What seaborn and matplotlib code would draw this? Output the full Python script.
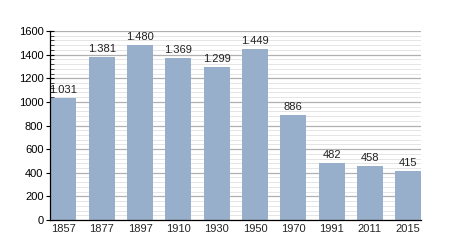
import matplotlib
matplotlib.use("Agg")
import matplotlib.pyplot as plt
import seaborn as sns
import pandas as pd
from matplotlib.ticker import MultipleLocator

years = ["1857", "1877", "1897", "1910", "1930", "1950", "1970", "1991", "2011", "2015"]
population = [1031, 1381, 1480, 1369, 1299, 1449, 886, 482, 458, 415]

df = pd.DataFrame({"year": years, "pop": population})

sns.set_style("white")
plt.rcParams["font.family"] = ["Liberation Sans", "DejaVu Sans"]

fig = plt.figure(figsize=(4.5, 2.5), dpi=100)
ax = fig.add_axes([0.112, 0.12, 0.824, 0.756])

sns.barplot(data=df, x="year", y="pop", color="#97afca", saturation=1, width=0.68,
            linewidth=0, edgecolor="none", ax=ax, zorder=3)

ax.set_ylim(0, 1600)
ax.set_xlim(-0.34, len(years) - 1 + 0.34)
ax.yaxis.set_major_locator(MultipleLocator(200))
ax.yaxis.set_minor_locator(MultipleLocator(40))
ax.grid(which="major", axis="y", color="#b0b0b0", linewidth=0.9, zorder=0)
ax.grid(which="minor", axis="y", color="#e0e0e0", linewidth=0.6, zorder=0)
ax.set_axisbelow(True)

for s in ["top", "right"]:
    ax.spines[s].set_visible(False)
ax.spines["left"].set_color("black")
ax.spines["bottom"].set_color("black")
ax.spines["left"].set_linewidth(0.9)
ax.spines["bottom"].set_linewidth(0.9)
ax.spines["left"].set_zorder(5)
ax.spines["bottom"].set_zorder(5)

ax.tick_params(axis="y", which="major", direction="inout", length=6, width=0.8, labelsize=8, colors="black", left=True, pad=2)
ax.tick_params(axis="y", which="minor", direction="in", length=3, width=0.6, left=True)
ax.tick_params(axis="x", length=0, labelsize=8, pad=3)
ax.set_xlabel("")
ax.set_ylabel("")

for i, v in enumerate(population):
    label = f"{v:,}".replace(",", ".")
    ax.text(i, v + 25, label, ha="center", va="bottom", fontsize=8, color="#222222", zorder=4)

fig.savefig("out.png", dpi=100)
